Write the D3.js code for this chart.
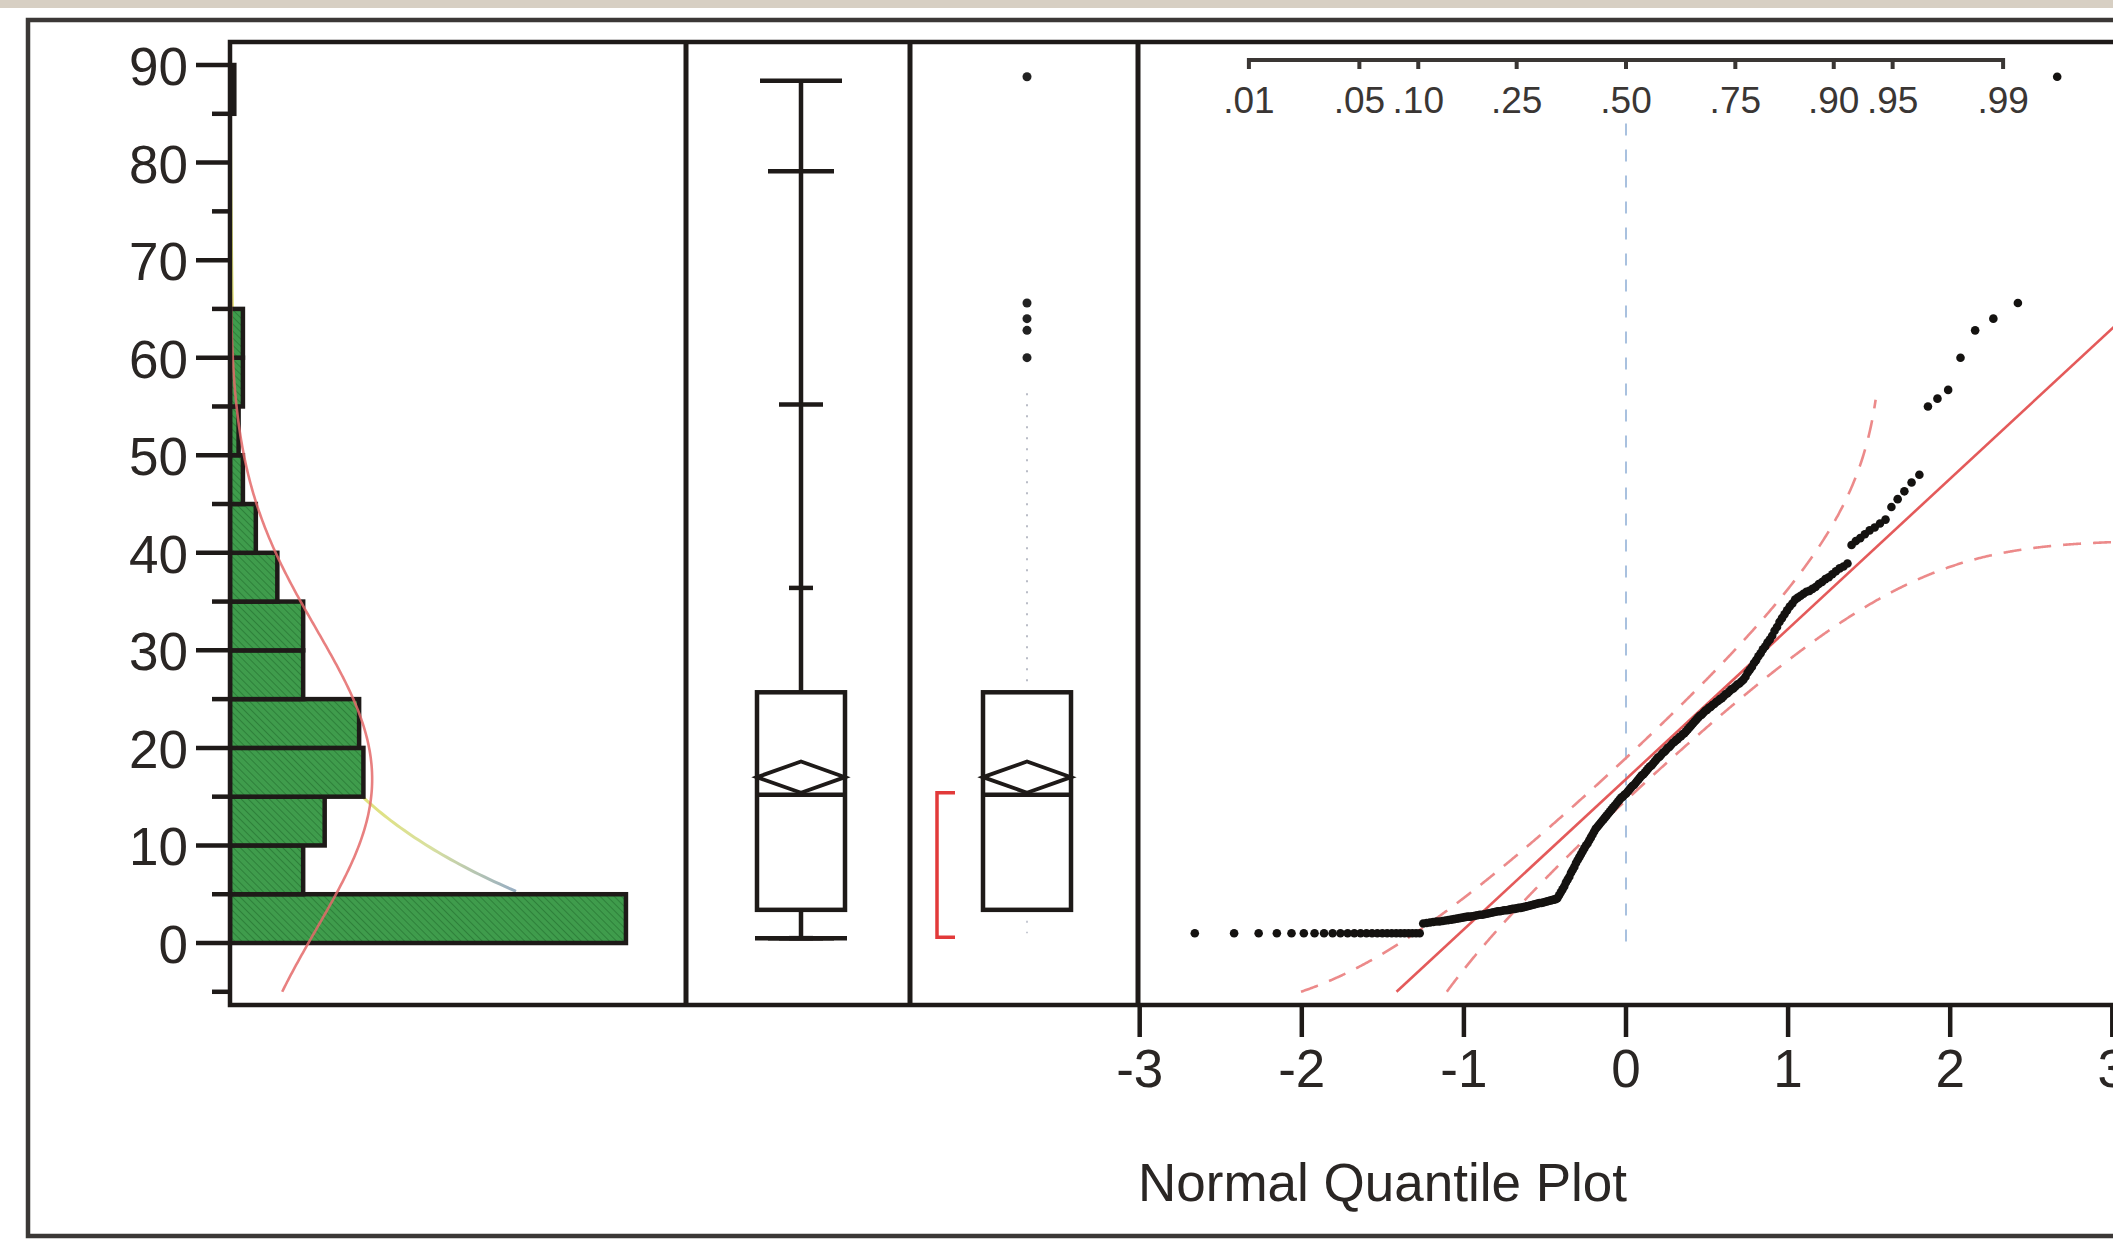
<!DOCTYPE html>
<html>
<head>
<meta charset="utf-8">
<script src="https://cdn.jsdelivr.net/npm/d3@7"></script>
<style>
  html, body { margin: 0; padding: 0; background: #ffffff; }
  svg { display: block; }
</style>
</head>
<body>
<svg id="chart" width="2113" height="1239"></svg>
<script>
// ---------------- data ----------------
// Histogram: bin lower edges (width 5) and counts
const binStarts = [0, 5, 10, 15, 20, 25, 30, 35, 40, 45, 50, 55, 60, 65, 70, 75, 80, 85];
const binCounts = [92, 17, 22, 31, 30, 17, 17, 11, 6, 3, 2, 3, 3, 0, 0, 0, 0, 1];
const binWidth = 5;

// Value axis ticks
const yMajorTicks = [0, 10, 20, 30, 40, 50, 60, 70, 80, 90];
const yMinorTicks = [-5, 5, 15, 25, 35, 45, 55, 65, 75, 85];

// Quantile box plot
const quantileProbs  = [0, 0.005, 0.025, 0.10, 0.25, 0.50, 0.75, 0.90, 0.975, 0.995, 1];
const quantileValues = [0.5, 0.5, 0.5, 0.5, 3.4, 15.2, 25.7, 36.4, 55.2, 79.1, 88.4];
const meanValue = 17.0;
const meanCI = [15.4, 18.6];
const shortestHalf = [0.6, 15.4];
const whiskerEnds = [1.0, 56.7];
const outlierValues = [60.0, 62.8, 64.0, 65.6, 88.8];

// Sorted sample shown in the normal quantile plot
const sortedValues = [
  1.0, 1.0, 1.0, 1.0, 1.0, 1.0, 1.0, 1.0, 1.0, 1.0, 1.0, 1.0, 1.0, 1.0, 1.0, 1.0, 1.0, 1.0, 1.0, 1.0, 1.0, 1.0, 1.0, 1.0, 1.0, 1.0,
  2.0, 2.05, 2.1, 2.15, 2.2, 2.2, 2.25, 2.3, 2.35, 2.4, 2.45, 2.5, 2.55, 2.6,
  2.65, 2.7, 2.7, 2.75, 2.8, 2.85, 2.9, 2.9, 2.95, 3.0, 3.05, 3.1, 3.15, 3.2,
  3.25, 3.25, 3.3, 3.35, 3.35, 3.4, 3.45, 3.5, 3.5, 3.55, 3.6, 3.6, 3.65, 3.7, 3.75, 3.8,
  3.85, 3.9, 3.95, 4.0, 4.05, 4.1, 4.1, 4.15, 4.2, 4.25, 4.3, 4.35, 4.4, 4.45, 4.5, 4.6,
  4.9, 5.2, 5.5, 5.8, 6.2, 6.5,
  6.8, 7.2, 7.5, 7.8, 8.2, 8.5,
  8.8, 9.1, 9.4, 9.7, 10.0, 10.2,
  10.5, 10.8, 11.1, 11.4, 11.7, 11.9,
  12.1, 12.3, 12.5, 12.7, 12.9, 13.1, 13.3, 13.5,
  13.7, 13.9, 14.1, 14.3, 14.5, 14.7, 14.9, 15.0, 15.2, 15.3,
  15.5, 15.7, 15.9, 16.1, 16.2, 16.4, 16.6, 16.8, 17.0, 17.2, 17.3, 17.5, 17.7,
  17.9, 18.1, 18.2, 18.4, 18.6, 18.8, 19.0, 19.1, 19.3, 19.5, 19.6, 19.8,
  20.0, 20.1, 20.3, 20.5, 20.6, 20.8, 20.9, 21.1, 21.2, 21.4, 21.5,
  21.7, 21.9, 22.1, 22.3, 22.5, 22.7, 22.9, 23.1, 23.3, 23.4, 23.6,
  23.8, 23.9, 24.1, 24.2, 24.4, 24.5, 24.7, 24.8, 25.0, 25.1, 25.3,
  25.5, 25.6, 25.8, 26.0, 26.1, 26.3, 26.5, 26.6, 26.8, 27.0,
  27.3, 27.7, 28.0, 28.3, 28.7, 29.0,
  29.4, 29.7, 30.1, 30.4, 30.8, 31.1,
  31.5, 32.0, 32.4, 32.9, 33.3,
  33.7, 34.1, 34.5, 34.8, 35.2,
  35.4, 35.6, 35.8, 36.0, 36.1, 36.3, 36.5,
  36.8, 37.0, 37.3, 37.5, 37.8,
  38.1, 38.4, 38.6, 38.9,
  40.8, 41.2, 41.5, 41.9, 42.3, 42.6, 43.0, 43.4,
  44.7, 45.5, 46.3, 47.2, 48.0,
  55.0, 55.8, 56.7,
  60.0, 62.8, 64.0, 65.6, 88.8
];

// Fitted normal (line and density) and the exponential density overlay
const fitMean = 16.8;
const fitSD = 15.4;
const bandD = 0.056;       // half-width of the confidence band in probability units
const expScale = 12.6;

// Axis labels
const zTicks = [-3, -2, -1, 0, 1, 2, 3];
const probTicks = [0.01, 0.05, 0.10, 0.25, 0.50, 0.75, 0.90, 0.95, 0.99];
const probLabels = [".01", ".05", ".10", ".25", ".50", ".75", ".90", ".95", ".99"];
const quantileTitle = "Normal Quantile Plot";

// ---------------- helpers ----------------
function invNorm(p) {
  const a = [-3.969683028665376e+01, 2.209460984245205e+02, -2.759285104469687e+02, 1.383577518672690e+02, -3.066479806614716e+01, 2.506628277459239e+00];
  const b = [-5.447609879822406e+01, 1.615858368580409e+02, -1.556989798598866e+02, 6.680131188771972e+01, -1.328068155288572e+01];
  const c = [-7.784894002430293e-03, -3.223964580411365e-01, -2.400758277161838e+00, -2.549732539343734e+00, 4.374664141464968e+00, 2.938163982698783e+00];
  const d = [7.784695709041462e-03, 3.224671290700398e-01, 2.445134137142996e+00, 3.754408661907416e+00];
  const pl = 0.02425, ph = 1 - pl;
  let q, r;
  if (p < pl) {
    q = Math.sqrt(-2 * Math.log(p));
    return (((((c[0]*q+c[1])*q+c[2])*q+c[3])*q+c[4])*q+c[5]) / ((((d[0]*q+d[1])*q+d[2])*q+d[3])*q+1);
  }
  if (p <= ph) {
    q = p - 0.5; r = q * q;
    return (((((a[0]*r+a[1])*r+a[2])*r+a[3])*r+a[4])*r+a[5])*q / (((((b[0]*r+b[1])*r+b[2])*r+b[3])*r+b[4])*r+1);
  }
  q = Math.sqrt(-2 * Math.log(1 - p));
  return -(((((c[0]*q+c[1])*q+c[2])*q+c[3])*q+c[4])*q+c[5]) / ((((d[0]*q+d[1])*q+d[2])*q+d[3])*q+1);
}
function normCdf(x) {
  const t = 1 / (1 + 0.2316419 * Math.abs(x));
  const dd = 0.3989422804014327 * Math.exp(-x * x / 2);
  const p = dd * t * (0.3193815 + t * (-0.3565638 + t * (1.781478 + t * (-1.821256 + t * 1.330274))));
  return x > 0 ? 1 - p : p;
}

// ---------------- layout ----------------
const W = 2113, H = 1239;
const frameL = 230, frameT = 42, frameB = 1005;
const div1 = 686, div2 = 910, div3 = 1138;
const FONT = "'Liberation Sans', Arial, Helvetica, sans-serif";
const INK = "#1e1a18";

const svg = d3.select("#chart");

const y = d3.scaleLinear().domain([-6.355, 92.36]).range([frameB, frameT]);
const xCount = d3.scaleLinear().domain([0, 106]).range([frameL, frameL + 456.2]);
const xz = d3.scaleLinear().domain([-3, 3]).range([1139.7, 2112.3]);

const defs = svg.append("defs");
const hatch = defs.append("pattern")
  .attr("id", "hatch").attr("patternUnits", "userSpaceOnUse")
  .attr("width", 5).attr("height", 5).attr("patternTransform", "rotate(-45)");
hatch.append("rect").attr("width", 5).attr("height", 5).attr("fill", "#3f9c4c");
hatch.append("line").attr("x1", 0).attr("y1", 0).attr("x2", 0).attr("y2", 5)
  .attr("stroke", "#2c7d38").attr("stroke-width", 1.8);

const grad = defs.append("linearGradient").attr("id", "expGrad")
  .attr("gradientUnits", "userSpaceOnUse").attr("x1", 360).attr("y1", 0).attr("x2", 520).attr("y2", 0);
grad.append("stop").attr("offset", "0%").attr("stop-color", "#e2e27a");
grad.append("stop").attr("offset", "45%").attr("stop-color", "#d8e0a0");
grad.append("stop").attr("offset", "100%").attr("stop-color", "#93aac4");

defs.append("clipPath").attr("id", "histClip").append("rect")
  .attr("x", frameL).attr("y", frameT).attr("width", div1 - frameL).attr("height", frameB - frameT);
defs.append("clipPath").attr("id", "qqClip").append("rect")
  .attr("x", div3).attr("y", frameT).attr("width", W - div3).attr("height", frameB - frameT);

// background and window strip
svg.append("rect").attr("width", W).attr("height", H).attr("fill", "#ffffff");
svg.append("rect").attr("x", 0).attr("y", 0).attr("width", W).attr("height", 8).attr("fill", "#d7cfc3");

// outer frame
svg.append("path")
  .attr("d", `M${W},20 H28 V1236 H${W}`)
  .attr("fill", "none").attr("stroke", "#3b3836").attr("stroke-width", 4.5);

// ---------------- histogram ----------------
const hist = svg.append("g").attr("clip-path", "url(#histClip)");

// exponential density overlay (sits behind the bars)
const expPts = d3.range(5.3, 88, 0.25).map(v => [v, binCounts.reduce((s, c) => s + c, 0) * binWidth / expScale * Math.exp(-v / expScale)]);
hist.append("path")
  .attr("d", d3.line().x(d => xCount(d[1])).y(d => y(d[0])).curve(d3.curveBasis)(expPts))
  .attr("fill", "none").attr("stroke", "url(#expGrad)").attr("stroke-width", 3);

const bins = binStarts.map((s, i) => ({ start: s, count: binCounts[i] })).filter(b => b.count > 0);
hist.selectAll("rect.bar").data(bins).join("rect")
  .attr("class", "bar")
  .attr("x", xCount(0))
  .attr("y", d => y(d.start + binWidth))
  .attr("width", d => xCount(d.count) - xCount(0))
  .attr("height", d => y(d.start) - y(d.start + binWidth))
  .attr("fill", "url(#hatch)")
  .attr("stroke", INK).attr("stroke-width", 4.5);

// fitted normal density
const nTotal = binCounts.reduce((s, c) => s + c, 0);
const normPts = d3.range(-5, 80, 0.25).map(v => {
  const zz = (v - fitMean) / fitSD;
  return [v, nTotal * binWidth * Math.exp(-zz * zz / 2) / (Math.sqrt(2 * Math.PI) * fitSD)];
});
hist.append("path")
  .attr("d", d3.line().x(d => xCount(d[1])).y(d => y(d[0]))(normPts))
  .attr("fill", "none").attr("stroke", "#e46a6a").attr("stroke-width", 2.6).attr("stroke-opacity", 0.85);

// ---------------- value axis ----------------
const yAxisG = svg.append("g");
yAxisG.selectAll("line.maj").data(yMajorTicks).join("line")
  .attr("x1", 196).attr("x2", frameL).attr("y1", d => y(d)).attr("y2", d => y(d))
  .attr("stroke", INK).attr("stroke-width", 4.5);
yAxisG.selectAll("line.min").data(yMinorTicks).join("line")
  .attr("x1", 212).attr("x2", frameL).attr("y1", d => y(d)).attr("y2", d => y(d))
  .attr("stroke", INK).attr("stroke-width", 4.5);
yAxisG.selectAll("text").data(yMajorTicks).join("text")
  .attr("x", 188).attr("y", d => y(d) + 20)
  .attr("text-anchor", "end")
  .attr("font-family", FONT).attr("font-size", 53).attr("fill", "#2a2624")
  .text(d => d);

// ---------------- quantile box plot ----------------
const q = Object.fromEntries(quantileProbs.map((p, i) => [p, quantileValues[i]]));
const bx1 = 801, bhw = 44;
const tickHalf = { 0: 46, 0.005: 33, 0.025: 22, 0.10: 12, 0.90: 12, 0.975: 22, 0.995: 33, 1: 41 };
const box1 = svg.append("g").attr("stroke", INK).attr("fill", "none");
box1.append("line").attr("x1", bx1).attr("x2", bx1).attr("y1", y(q[0])).attr("y2", y(q[0.25])).attr("stroke-width", 4.5);
box1.append("line").attr("x1", bx1).attr("x2", bx1).attr("y1", y(q[0.75])).attr("y2", y(q[1])).attr("stroke-width", 4.5);
[0, 0.005, 0.025, 0.10, 0.90, 0.975, 0.995, 1].forEach(p => {
  box1.append("line")
    .attr("x1", bx1 - tickHalf[p]).attr("x2", bx1 + tickHalf[p])
    .attr("y1", y(q[p])).attr("y2", y(q[p]))
    .attr("stroke-width", 4.5);
});

function drawBox(g, cx) {
  g.append("rect")
    .attr("x", cx - bhw).attr("y", y(q[0.75]))
    .attr("width", 2 * bhw).attr("height", y(q[0.25]) - y(q[0.75]))
    .attr("fill", "#ffffff").attr("stroke", INK).attr("stroke-width", 4.5);
  g.append("line").attr("x1", cx - bhw).attr("x2", cx + bhw)
    .attr("y1", y(q[0.5])).attr("y2", y(q[0.5]))
    .attr("stroke", INK).attr("stroke-width", 4.5);
  g.append("path")
    .attr("d", `M${cx - bhw},${y(meanValue)} L${cx},${y(meanCI[1])} L${cx + bhw},${y(meanValue)} L${cx},${y(meanCI[0])} Z`)
    .attr("fill", "none").attr("stroke", INK).attr("stroke-width", 3.8).attr("stroke-linejoin", "miter");
}
drawBox(box1, bx1);

// ---------------- outlier box plot ----------------
const bx2 = 1027;
const box2 = svg.append("g");
box2.append("line").attr("x1", bx2).attr("x2", bx2)
  .attr("y1", y(q[0.75])).attr("y2", y(whiskerEnds[1]))
  .attr("stroke", "#b9bcc6").attr("stroke-width", 2).attr("stroke-dasharray", "2,9");
box2.append("line").attr("x1", bx2).attr("x2", bx2)
  .attr("y1", y(q[0.25])).attr("y2", y(whiskerEnds[0]))
  .attr("stroke", "#c6c9d2").attr("stroke-width", 2).attr("stroke-dasharray", "2,9");
drawBox(box2, bx2);
box2.selectAll("circle").data(outlierValues).join("circle")
  .attr("cx", bx2).attr("cy", d => y(d)).attr("r", 4.5).attr("fill", "#222");

// shortest half bracket
const brX = 937;
svg.append("path")
  .attr("d", `M${brX + 18},${y(shortestHalf[1])} H${brX} V${y(shortestHalf[0])} H${brX + 18}`)
  .attr("fill", "none").attr("stroke", "#e23a3a").attr("stroke-width", 3.5);

// ---------------- normal quantile plot ----------------
const qq = svg.append("g").attr("clip-path", "url(#qqClip)");
const nQ = sortedValues.length;

// reference line at the median
qq.append("line").attr("x1", xz(0)).attr("x2", xz(0)).attr("y1", y(84)).attr("y2", y(0))
  .attr("stroke", "#a9c1df").attr("stroke-width", 2).attr("stroke-dasharray", "12,14");

// confidence bands
const zGrid = d3.range(-3, 3.0001, 0.005);
const upperBand = zGrid.map(z => {
  const p = normCdf(z) + bandD;
  return p < 1 ? [z, fitMean + fitSD * invNorm(p)] : null;
}).filter(d => d && d[1] >= -5 && d[1] <= 56);
const lowerBand = zGrid.map(z => {
  const p = normCdf(z) - bandD;
  return p > 0 ? [z, fitMean + fitSD * invNorm(p)] : null;
}).filter(d => d && d[1] >= -5);
const bandLine = d3.line().x(d => xz(d[0])).y(d => y(d[1]));
[upperBand, lowerBand].forEach(b => {
  qq.append("path").attr("d", bandLine(b))
    .attr("fill", "none").attr("stroke", "#ec8a8a").attr("stroke-width", 2.6)
    .attr("stroke-dasharray", "18,12");
});

// fitted normal line
const zLo = (-5 - fitMean) / fitSD;
qq.append("line")
  .attr("x1", xz(zLo)).attr("y1", y(-5))
  .attr("x2", xz(3.05)).attr("y2", y(fitMean + fitSD * 3.05))
  .attr("stroke", "#e45a5a").attr("stroke-width", 2.6);

// sample points
qq.selectAll("circle").data(sortedValues).join("circle")
  .attr("cx", (d, i) => xz(invNorm((i + 1) / (nQ + 1))))
  .attr("cy", d => y(d))
  .attr("r", 4.3).attr("fill", "#141210");

// probability axis along the top
const probG = svg.append("g");
const pY = 60;
probG.append("line").attr("x1", xz(invNorm(probTicks[0]))).attr("x2", xz(invNorm(probTicks[probTicks.length - 1])))
  .attr("y1", pY).attr("y2", pY).attr("stroke", "#3a3634").attr("stroke-width", 4);
probG.selectAll("line.t").data(probTicks).join("line")
  .attr("class", "t")
  .attr("x1", d => xz(invNorm(d))).attr("x2", d => xz(invNorm(d)))
  .attr("y1", pY - 2).attr("y2", pY + 9).attr("stroke", "#3a3634").attr("stroke-width", 4);
probG.selectAll("text").data(probTicks).join("text")
  .attr("x", d => xz(invNorm(d))).attr("y", 113)
  .attr("text-anchor", "middle")
  .attr("font-family", FONT).attr("font-size", 37).attr("fill", "#3a3634")
  .text((d, i) => probLabels[i]);

// ---------------- frame and dividers ----------------
svg.append("path")
  .attr("d", `M${W},${frameT} H${frameL} V${frameB} H${W}`)
  .attr("fill", "none").attr("stroke", INK).attr("stroke-width", 4.5);
[div1, div2, div3].forEach(x => {
  svg.append("line").attr("x1", x).attr("x2", x).attr("y1", frameT).attr("y2", frameB)
    .attr("stroke", INK).attr("stroke-width", 5);
});

// ---------------- z axis ----------------
const zAxisG = svg.append("g");
zAxisG.selectAll("line").data(zTicks).join("line")
  .attr("x1", d => xz(d)).attr("x2", d => xz(d))
  .attr("y1", frameB).attr("y2", 1037)
  .attr("stroke", INK).attr("stroke-width", 4.5);
zAxisG.selectAll("text").data(zTicks).join("text")
  .attr("x", d => xz(d)).attr("y", 1087)
  .attr("text-anchor", "middle")
  .attr("font-family", FONT).attr("font-size", 53).attr("fill", "#2a2624")
  .text(d => d);

svg.append("text")
  .attr("x", 1138).attr("y", 1201)
  .attr("font-family", FONT).attr("font-size", 53).attr("fill", "#2a2624")
  .text(quantileTitle);
</script>
</body>
</html>
